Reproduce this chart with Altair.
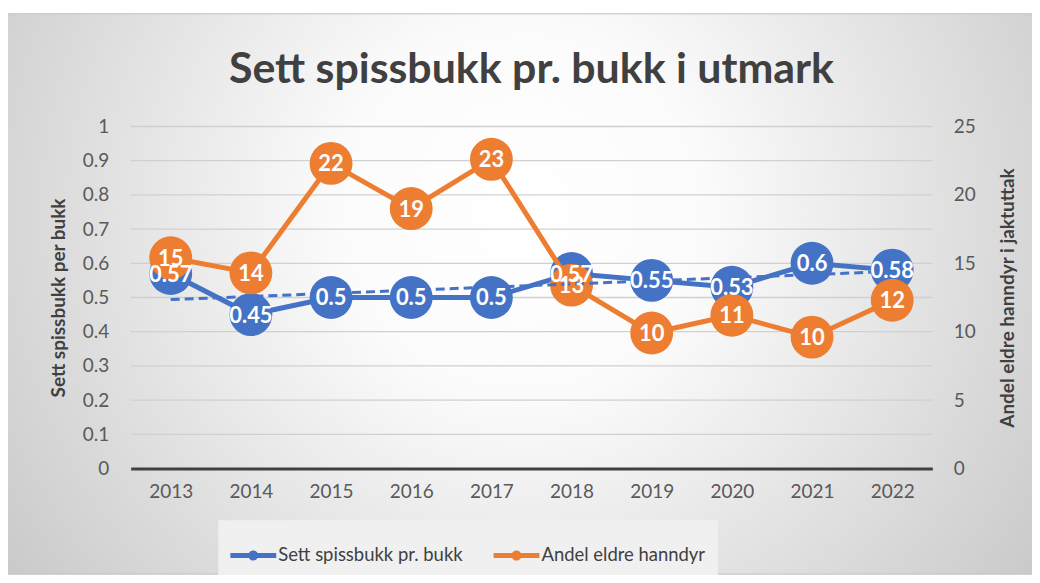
import altair as alt
import pandas as pd

years = [2013, 2014, 2015, 2016, 2017, 2018, 2019, 2020, 2021, 2022]
sett_spissbukk = [0.57, 0.45, 0.5, 0.5, 0.5, 0.57, 0.55, 0.53, 0.6, 0.58]
andel_eldre = [15.4, 14.3, 22.3, 19.0, 22.6, 13.4, 9.9, 11.2, 9.6, 12.3]
series_names = ["Sett spissbukk pr. bukk", "Andel eldre hanndyr"]
left_ticks = [0, 0.1, 0.2, 0.3, 0.4, 0.5, 0.6, 0.7, 0.8, 0.9, 1]
right_ticks = [0, 5, 10, 15, 20, 25]

BLUE = "#4472C4"
ORANGE = "#ED7D31"
W, H = 804, 343
PAD_L, PAD_T, PAD_B = 123, 118, 106

blue_df = pd.DataFrame({"year": years, "value": sett_spissbukk, "series": series_names[0]})
orange_df = pd.DataFrame({"year": years, "value": andel_eldre, "series": series_names[1]})
grid_df = pd.DataFrame({"t": left_ticks[1:]})
bg_df = pd.DataFrame({"a": [0]})

x_enc = alt.X("year:O", title=None,
              axis=alt.Axis(labelAngle=0, grid=False, ticks=False, domain=True,
                            domainColor="#404040", domainWidth=3, zindex=1,
                            labelFontSize=19, labelColor="#595959", labelPadding=14))

yl_scale = alt.Scale(domain=[0, 1], nice=False, zero=True)
yr_scale = alt.Scale(domain=[0, 25], nice=False, zero=True)

color_enc = alt.Color("series:N", scale=alt.Scale(domain=series_names, range=[BLUE, ORANGE]),
                      legend=alt.Legend(title=None))

bg = alt.Chart(bg_df).mark_rect(
    fill=alt.RadialGradient(gradient="radial",
                            stops=[alt.GradientStop(offset=0, color="#ffffff"),
                                   alt.GradientStop(offset=0.25, color="#fbfbfb"),
                                   alt.GradientStop(offset=1, color="#bdbdbd")],
                            x1=0.5, y1=0.42, r1=0, x2=0.5, y2=0.42, r2=0.72),
    stroke="#c0c0c0", strokeWidth=1
).encode(
    x=alt.value(7 - 8 - PAD_L), x2=alt.value(1040 - 8 - PAD_L),
    y=alt.value(13 - 8 - PAD_T), y2=alt.value(H + PAD_B)
)

grid = alt.Chart(grid_df).mark_rule(color="#d0d0d0", strokeWidth=1.3).encode(
    y=alt.Y("t:Q", scale=yl_scale, axis=None),
    x=alt.value(0), x2=alt.value(W)
)

blue_line = alt.Chart(blue_df).mark_line(color=BLUE, strokeWidth=5).encode(
    x=x_enc,
    y=alt.Y("value:Q", scale=yl_scale,
            axis=alt.Axis(values=left_ticks, title="Sett spissbukk per bukk", orient="left",
                          grid=False, ticks=False, domain=False, zindex=1,
                          labelFontSize=19, labelColor="#595959", labelPadding=22,
                          titleFontSize=19, titleFontWeight="bold", titleColor="#404040",
                          titlePadding=14, format="~g"))
)

blue_pts = alt.Chart(blue_df).mark_point(filled=True, shape="circle", size=1850, opacity=1).encode(
    x="year:O", y=alt.Y("value:Q", scale=yl_scale, axis=None), color=color_enc
)

orange_line = alt.Chart(orange_df).mark_line(color=ORANGE, strokeWidth=5).encode(
    x="year:O",
    y=alt.Y("value:Q", scale=yr_scale,
            axis=alt.Axis(values=right_ticks, title="Andel eldre hanndyr i jaktuttak", orient="right",
                          grid=False, ticks=False, domain=False, zindex=1,
                          labelFontSize=19, labelColor="#595959", labelPadding=21,
                          titleFontSize=19, titleFontWeight="bold", titleColor="#404040",
                          titleAngle=270, titlePadding=42))
)

orange_pts = alt.Chart(orange_df).mark_point(filled=True, shape="circle", size=1850, opacity=1).encode(
    x="year:O", y=alt.Y("value:Q", scale=yr_scale, axis=None), color=color_enc
)

trend = alt.Chart(blue_df).transform_regression("year", "value").mark_line(
    color=BLUE, strokeWidth=3, strokeDash=[9, 5]
).encode(
    x="year:O", y=alt.Y("value:Q", scale=yl_scale, axis=None)
)

blue_lbl = alt.Chart(blue_df).mark_text(
    color="white", fontSize=22, fontWeight="bold", baseline="middle", dy=1
).encode(
    x="year:O", y=alt.Y("value:Q", scale=yl_scale, axis=None),
    text=alt.Text("value:Q", format="~g")
)

orange_lbl = alt.Chart(orange_df).mark_text(
    color="white", fontSize=22, fontWeight="bold", baseline="middle", dy=1
).encode(
    x="year:O", y=alt.Y("value:Q", scale=yr_scale, axis=None),
    text=alt.Text("value:Q", format=".0f")
)

legend_path = ("M-1,-0.11L1,-0.11L1,0.11L-1,0.11Z"
               "M-0.22,0A0.22,0.22,0,1,1,0.22,0A0.22,0.22,0,1,1,-0.22,0Z")

chart = alt.layer(
    bg, grid, blue_line, blue_pts, orange_line, orange_pts, trend, blue_lbl, orange_lbl
).resolve_scale(
    y="independent"
).properties(
    width=W, height=H,
    title=alt.Title("Sett spissbukk pr. bukk i utmark", fontSize=43, font="Lato",
                    fontWeight="bold", color="#404040", anchor="middle", offset=-79),
    autosize=alt.AutoSizeParams(type="none"),
    padding={"left": PAD_L, "top": PAD_T, "right": 100, "bottom": PAD_B},
).configure(
    font="Lato"
).configure_view(
    stroke=None
).configure_legend(
    orient="none", legendX=88, legendY=395,
    direction="horizontal", fillColor="#f0f0f0", padding=12,
    symbolType=legend_path, symbolSize=2116, symbolStrokeWidth=0, symbolOpacity=1,
    labelFontSize=18.5, labelColor="#404040", labelFont="Lato", labelLimit=400,
    columnPadding=30, labelOffset=2
)

chart.save("out.html", embed_options={"renderer": "svg", "actions": False})
